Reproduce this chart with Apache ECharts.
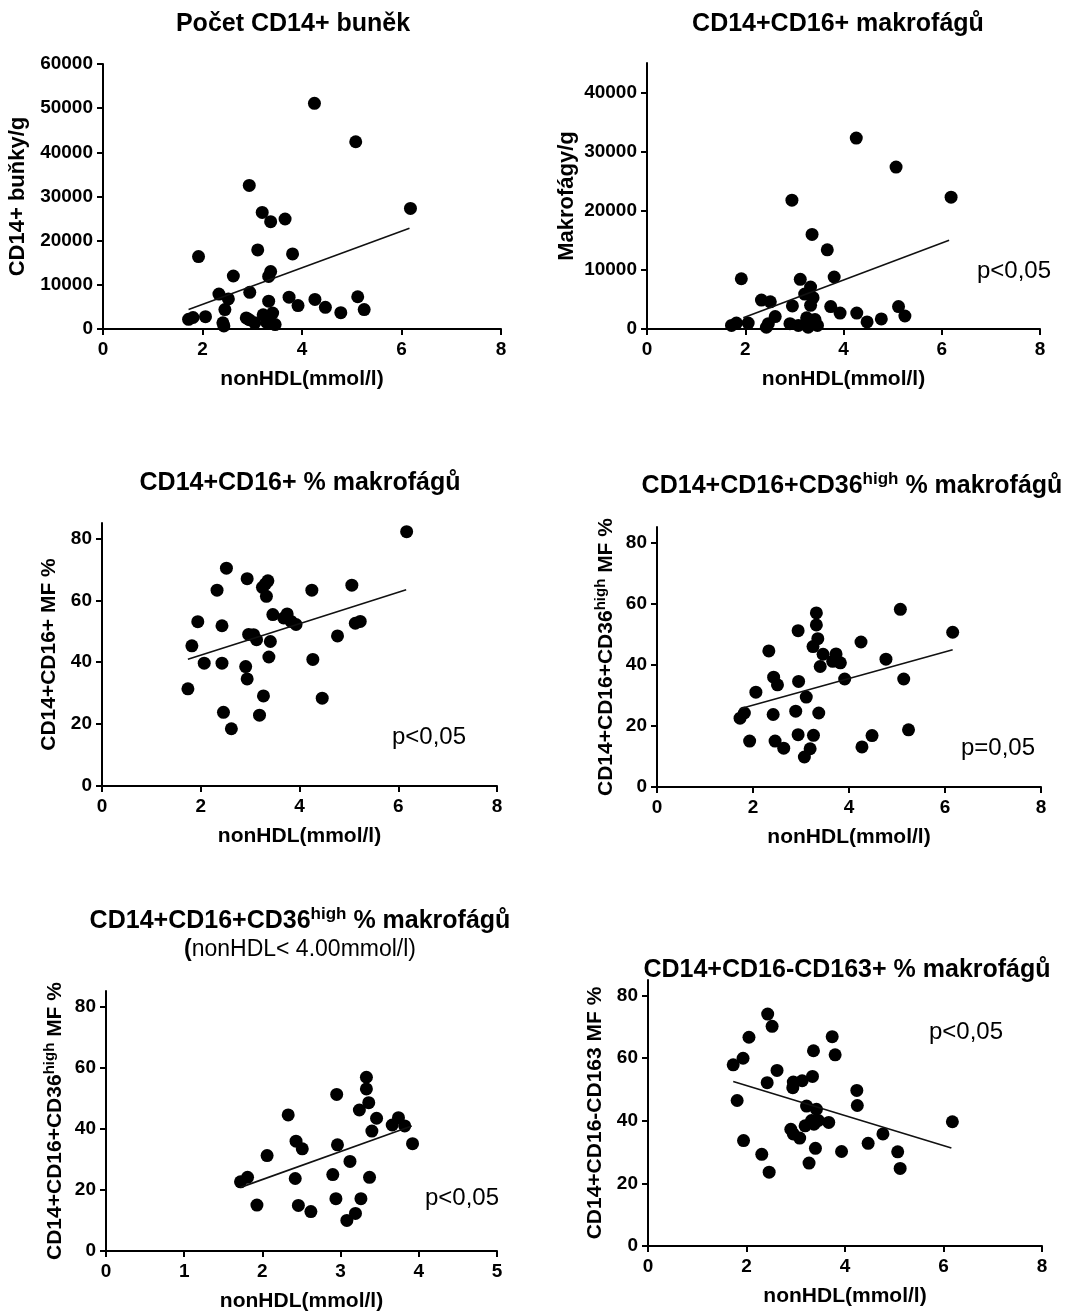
<!DOCTYPE html>
<html>
<head>
<meta charset="utf-8">
<script src="https://cdn.jsdelivr.net/npm/echarts@6/dist/echarts.min.js"></script>
<style>
html, body { margin: 0; padding: 0; background: #fff; }
#chart { width: 1070px; height: 1313px; }
</style>
</head>
<body>
<div id="chart"></div>
<script>
// tick values
var xTicks = [0, 2, 4, 6, 8];
var xTicksLow = [0, 1, 2, 3, 4, 5];
var cd14Ticks = [0, 10000, 20000, 30000, 40000, 50000, 60000];
var mfTicks = [0, 10000, 20000, 30000, 40000];
var pctTicks = [0, 20, 40, 60, 80];

// 1 - pocet CD14+ bunek
var cd14X = [4.25, 5.08, 2.94, 3.20, 3.37, 3.66, 6.18, 3.11, 3.81, 1.92, 3.37, 3.33, 2.62, 2.33, 2.52, 2.95, 3.33, 3.74, 4.26, 5.12, 3.92, 4.47, 4.78, 5.25, 2.45, 2.06, 1.72, 1.81, 2.88, 2.94, 3.22, 3.41, 3.05, 3.29, 3.46, 2.41, 2.43];
var cd14Y = [51100, 42400, 32500, 26400, 24300, 24900, 27300, 17900, 17000, 16400, 13000, 11900, 12000, 7900, 6800, 8300, 6300, 7200, 6700, 7300, 5300, 4900, 3700, 4400, 4400, 2800, 2200, 2600, 2500, 2100, 3200, 3600, 1400, 1500, 1000, 1400, 700];
var cd14Fit = [[1.72, 4400], [6.16, 22800]];

// 2 - CD14+CD16+ makrofagy / g
var mfX = [4.26, 5.07, 2.95, 6.19, 3.36, 3.67, 1.92, 3.12, 3.81, 3.33, 3.21, 3.38, 2.33, 2.51, 2.96, 3.33, 3.74, 3.93, 4.27, 5.12, 5.25, 4.77, 4.48, 2.61, 2.06, 1.72, 1.82, 2.47, 2.43, 2.91, 3.08, 3.25, 3.28, 3.42, 3.47];
var mfY = [32300, 27400, 21800, 22300, 16000, 13400, 8500, 8400, 8800, 7100, 5900, 5300, 4900, 4600, 3900, 4000, 3800, 2700, 2700, 3800, 2200, 1700, 1200, 2100, 1000, 600, 1000, 900, 300, 900, 600, 1900, 300, 1600, 600];
var mfFit = [[1.96, 1900], [6.15, 15000]];

// 3 - CD14+CD16+ %
var cd16X = [6.17, 2.52, 2.94, 2.33, 3.36, 3.31, 3.25, 3.33, 4.25, 5.06, 3.46, 3.75, 3.68, 3.83, 3.93, 1.94, 2.43, 5.13, 5.23, 1.82, 2.97, 3.07, 3.13, 3.41, 4.77, 2.07, 2.43, 2.91, 3.38, 4.27, 2.94, 1.74, 3.27, 4.46, 2.46, 3.19, 2.62];
var cd16Y = [82.2, 70.4, 67.0, 63.3, 66.3, 65.3, 64.2, 61.3, 63.3, 64.9, 55.4, 55.6, 54.3, 53.2, 52.2, 53.1, 51.8, 52.6, 53.2, 45.3, 49.0, 48.9, 47.3, 46.7, 48.5, 39.7, 39.7, 38.6, 41.7, 40.9, 34.6, 31.4, 29.1, 28.4, 23.8, 22.9, 18.5];
var cd16Fit = [[1.74, 41.0], [6.16, 63.4]];

// 4 - CD36 high %
var cd36X = [5.07, 3.32, 3.32, 2.94, 6.16, 3.35, 3.25, 4.25, 2.33, 3.46, 3.73, 3.66, 3.82, 4.77, 3.40, 3.91, 5.14, 2.43, 2.51, 2.95, 2.06, 3.11, 1.73, 1.82, 2.42, 2.89, 3.37, 5.24, 2.94, 3.26, 4.48, 1.93, 2.46, 2.64, 3.19, 4.27, 3.07];
var cd36Y = [58.1, 56.9, 53.0, 51.1, 50.6, 48.5, 45.9, 47.4, 44.5, 43.4, 43.5, 41.1, 40.6, 41.8, 39.4, 35.3, 35.3, 35.9, 33.4, 34.5, 31.0, 29.4, 22.5, 24.2, 23.7, 24.8, 24.2, 18.7, 17.1, 16.9, 16.8, 15.0, 15.0, 12.7, 12.5, 13.1, 9.8];
var cd36Fit = [[1.73, 25.6], [6.16, 44.9]];

// 5 - CD36 high %, nonHDL < 4
var lowX = [3.33, 3.33, 2.95, 3.36, 3.24, 2.33, 3.46, 3.74, 3.66, 3.82, 3.40, 3.92, 2.43, 2.51, 2.96, 2.06, 3.12, 1.72, 1.81, 2.42, 2.90, 3.37, 2.94, 3.26, 1.93, 2.46, 2.62, 3.19, 3.08];
var lowY = [56.8, 53.0, 51.2, 48.5, 46.1, 44.5, 43.4, 43.6, 41.2, 40.9, 39.2, 35.1, 35.9, 33.4, 34.7, 31.2, 29.3, 22.6, 24.1, 23.7, 25.0, 24.1, 17.1, 17.1, 15.0, 14.9, 12.9, 12.3, 10.0];
var lowFit = [[1.72, 20.8], [3.91, 40.9]];

// 6 - CD14+CD16-CD163+ %
var cd163X = [2.43, 2.52, 2.05, 3.74, 3.80, 3.36, 1.73, 1.93, 2.62, 3.34, 2.42, 2.95, 3.13, 2.94, 4.24, 1.81, 3.22, 3.42, 4.25, 3.46, 3.67, 3.32, 3.19, 3.37, 2.90, 2.95, 3.08, 6.18, 4.77, 1.94, 4.47, 3.40, 3.93, 5.07, 2.31, 3.27, 2.46, 5.12];
var cd163Y = [74.1, 70.2, 66.7, 66.9, 61.1, 62.4, 57.9, 60.0, 56.1, 54.2, 52.2, 52.4, 52.8, 50.6, 49.7, 46.5, 44.7, 43.7, 44.9, 40.1, 39.5, 40.1, 38.4, 38.9, 37.3, 35.8, 34.5, 39.7, 35.8, 33.7, 32.8, 31.2, 30.2, 30.1, 29.3, 26.5, 23.6, 24.8];
var cd163Fit = [[1.73, 52.6], [6.16, 31.3]];

var FONT = '"Liberation Sans", Arial, sans-serif';

var panels = [
  { x: cd14X, y: cd14Y, fit: cd14Fit, xt: xTicks, yt: cd14Ticks, xmax: 8, ymax: 60000, yint: 10000,
    grid: { left: 103, top: 64, width: 398, height: 265 }, yName: 'CD14+ buňky/g', yGap: 72, ySize: 22 },
  { x: mfX, y: mfY, fit: mfFit, xt: xTicks, yt: mfTicks, xmax: 8, ymax: 45000, yint: 10000,
    grid: { left: 647, top: 63, width: 393, height: 266 }, yName: 'Makrofágy/g', yGap: 64, ySize: 22 },
  { x: cd16X, y: cd16Y, fit: cd16Fit, xt: xTicks, yt: pctTicks, xmax: 8, ymax: 85, yint: 20,
    grid: { left: 102, top: 523, width: 395, height: 263 }, yName: 'CD14+CD16+ MF %', yGap: 40, ySize: 21 },
  { x: cd36X, y: cd36Y, fit: cd36Fit, xt: xTicks, yt: pctTicks, xmax: 8, ymax: 85, yint: 20,
    grid: { left: 657, top: 527, width: 384, height: 260 }, yName: 'CD14+CD16+CD36{sup|high} MF %', yGap: 38, ySize: 21 },
  { x: lowX, y: lowY, fit: lowFit, xt: xTicksLow, yt: pctTicks, xmax: 5, ymax: 85, yint: 20,
    grid: { left: 106, top: 991, width: 391, height: 260 }, yName: 'CD14+CD16+CD36{sup|high} MF %', yGap: 38, ySize: 21 },
  { x: cd163X, y: cd163Y, fit: cd163Fit, xt: xTicks, yt: pctTicks, xmax: 8, ymax: 85, yint: 20,
    grid: { left: 648, top: 980, width: 394, height: 266 }, yName: 'CD14+CD16-CD163 MF %', yGap: 40, ySize: 21 }
];

var supRich = {
  sup: { fontSize: 15, fontWeight: 'bold', fontFamily: FONT, color: '#000', verticalAlign: 'top', lineHeight: 10 }
};

var grids = [], xAxes = [], yAxes = [], series = [];
panels.forEach(function (p, i) {
  grids.push(p.grid);
  xAxes.push({
    type: 'value', gridIndex: i, min: 0, max: p.xmax, interval: p.xmax == 5 ? 1 : 2,
    name: 'nonHDL(mmol/l)', nameLocation: 'middle', nameGap: 40,
    nameTextStyle: { fontSize: 21, fontWeight: 'bold', color: '#000', fontFamily: FONT },
    axisLine: { show: true, onZero: false, lineStyle: { color: '#000', width: 2 } },
    axisTick: { show: true, length: 6, customValues: p.xt, lineStyle: { color: '#000', width: 2 } },
    axisLabel: { customValues: p.xt, fontSize: 19, fontWeight: 'bold', color: '#000', fontFamily: FONT, margin: 11 },
    splitLine: { show: false }
  });
  yAxes.push({
    type: 'value', gridIndex: i, min: 0, max: p.ymax, interval: p.yint,
    name: p.yName, nameLocation: 'middle', nameGap: p.yGap,
    nameTextStyle: { fontSize: p.ySize, fontWeight: 'bold', color: '#000', fontFamily: FONT, lineHeight: 26, rich: supRich },
    axisLine: { show: true, onZero: false, lineStyle: { color: '#000', width: 2 } },
    axisTick: { show: true, length: 6, customValues: p.yt, lineStyle: { color: '#000', width: 2 } },
    axisLabel: { customValues: p.yt, fontSize: 19, fontWeight: 'bold', color: '#000', fontFamily: FONT, margin: 10,
      formatter: function (v) { return String(v); } },
    splitLine: { show: false }
  });
  var pts = p.x.map(function (v, k) { return [v, p.y[k]]; });
  series.push({
    type: 'scatter', xAxisIndex: i, yAxisIndex: i, data: pts, symbolSize: 13,
    itemStyle: { color: '#000', opacity: 1 }, silent: true
  });
  series.push({
    type: 'line', xAxisIndex: i, yAxisIndex: i, data: p.fit, showSymbol: false,
    lineStyle: { color: '#111', width: 1.6 }, silent: true
  });
});

function titleText(str, x, y, rich) {
  return {
    type: 'text', x: x, y: y, silent: true,
    style: {
      text: str, align: 'center', verticalAlign: 'middle',
      fontSize: 25, fontWeight: 'bold', fontFamily: FONT, fill: '#000', lineHeight: 30,
      rich: rich
    }
  };
}
function pText(str, x, y) {
  return {
    type: 'text', x: x, y: y, silent: true,
    style: { text: str, align: 'center', verticalAlign: 'middle', fontSize: 24, fontFamily: FONT, fill: '#000' }
  };
}

var titleRich = {
  sup: { fontSize: 17, fontWeight: 'bold', fontFamily: FONT, fill: '#000', verticalAlign: 'top', lineHeight: 12 },
  b: { fontSize: 23, fontWeight: 'bold', fontFamily: FONT, fill: '#000', lineHeight: 28 },
  n: { fontSize: 23, fontWeight: 'normal', fontFamily: FONT, fill: '#000', lineHeight: 28 }
};

var graphics = [
  titleText('Počet CD14+ buněk', 293, 24),
  titleText('CD14+CD16+ makrofágů', 838, 24),
  titleText('CD14+CD16+ % makrofágů', 300, 483),
  titleText('CD14+CD16+CD36{sup|high} % makrofágů', 852, 486, titleRich),
  titleText('CD14+CD16+CD36{sup|high} % makrofágů\n{b|(}{n|nonHDL< 4.00mmol/l)}', 300, 935, titleRich),
  titleText('CD14+CD16-CD163+ % makrofágů', 847, 970),
  pText('p<0,05', 1014, 271),
  pText('p<0,05', 429, 737),
  pText('p=0,05', 998, 748),
  pText('p<0,05', 462, 1198),
  pText('p<0,05', 966, 1032)
];

var chart = echarts.init(document.getElementById('chart'));
chart.setOption({
  backgroundColor: '#fff',
  animation: false,
  textStyle: { fontFamily: FONT },
  grid: grids,
  xAxis: xAxes,
  yAxis: yAxes,
  series: series,
  graphic: graphics
});
</script>
</body>
</html>
